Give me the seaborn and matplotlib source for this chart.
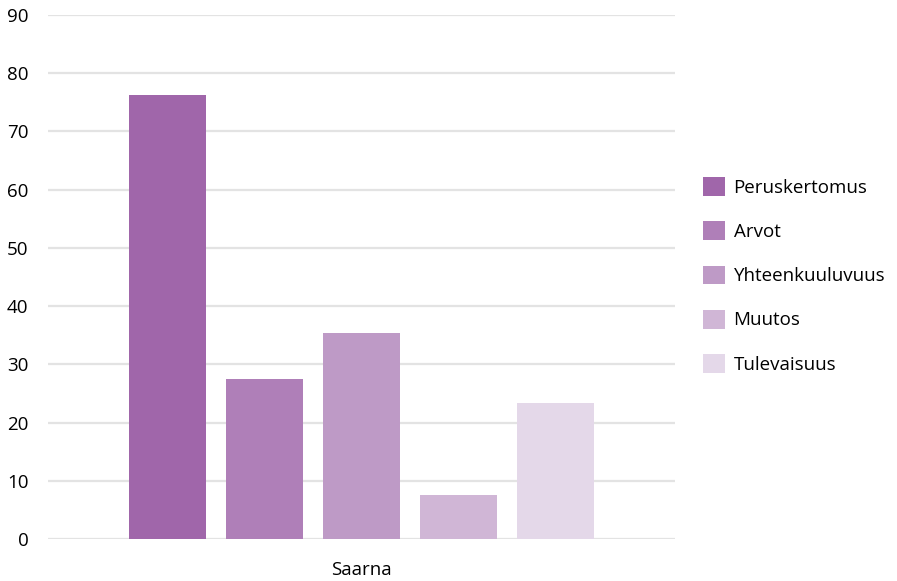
import pandas as pd
import seaborn as sns
import matplotlib.pyplot as plt

# data
categories = ["Saarna"]
themes = ["Peruskertomus", "Arvot", "Yhteenkuuluvuus", "Muutos", "Tulevaisuus"]
values = [76.3, 27.5, 35.4, 7.5, 23.4]
colors = ["#a066aa", "#af7fb8", "#be9ac6", "#d0b6d6", "#e4d8e9"]
yticks = [0, 10, 20, 30, 40, 50, 60, 70, 80, 90]

df = pd.DataFrame({
    "ryhma": categories * len(themes),
    "teema": themes,
    "arvo": values,
})

sns.set_style("white")
plt.rcParams["font.family"] = ["Open Sans", "DejaVu Sans"]
plt.rcParams["font.weight"] = "medium"
plt.rcParams["text.color"] = "#000000"

fig = plt.figure(figsize=(8.97, 5.81), dpi=100)
ax = fig.add_axes([48 / 897, 1 - 539 / 581, 627 / 897, 524 / 581])

sns.barplot(data=df, x="ryhma", y="arvo", hue="teema", palette=colors,
            saturation=1, width=0.774, gap=0.21, linewidth=0, ax=ax)

ax.set_ylim(0, 90)
ax.set_xlim(-0.5, 0.5)
ax.set_yticks(yticks)
ax.yaxis.grid(True, color="#e3e3e3", linewidth=1.6)
ax.set_axisbelow(True)
for s in ax.spines.values():
    s.set_visible(False)
ax.tick_params(axis="both", length=0, labelsize=13.5, labelcolor="#000000")
ax.tick_params(axis="y", pad=14)
ax.tick_params(axis="x", pad=16)
ax.set_xlabel("")
ax.set_ylabel("")

handles, labels = ax.get_legend_handles_labels()
ax.get_legend().remove()
fig.legend(handles, labels, loc="center left", bbox_to_anchor=(0.784, 0.526),
           frameon=False, fontsize=13.5, handlelength=1.17, handleheight=1.17,
           handletextpad=0.45, labelspacing=1.3, borderpad=0, borderaxespad=0)

plt.savefig("out.png", dpi=100)
plt.close()
